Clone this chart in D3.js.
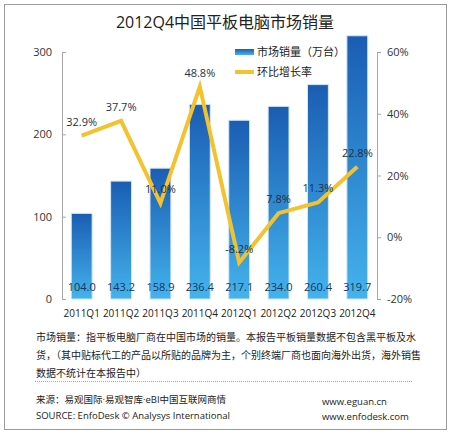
<!DOCTYPE html>
<html>
<head>
<meta charset="utf-8">
<script src="https://cdn.jsdelivr.net/npm/d3@7"></script>
<style>
  body { margin: 0; background: #fff; font-family: "Open Sans", "Noto Sans CJK SC", sans-serif; }
</style>
</head>
<body>
<div id="chart"></div>
<script>
// data
var quarters = ["2011Q1", "2011Q2", "2011Q3", "2011Q4", "2012Q1", "2012Q2", "2012Q3", "2012Q4"];
var sales = [104.0, 143.2, 158.9, 236.4, 217.1, 234.0, 260.4, 319.7];
var growth = [32.9, 37.7, 11.0, 48.8, -8.2, 7.8, 11.3, 22.8];
var leftTicks = [0, 100, 200, 300];
var rightTicks = [-20, 0, 20, 40, 60];

var W = 450, H = 435;
var margin = {top: 52, left: 62, right: 73, bottom: 136};
var width = W - margin.left - margin.right,
    height = H - margin.top - margin.bottom;
var latin = "'Open Sans', sans-serif",
    cjk = "'Open Sans', 'Noto Sans CJK SC', sans-serif";

var svg = d3.select("#chart").append("svg")
    .attr("width", W)
    .attr("height", H);

var defs = svg.append("defs");
var grad = defs.append("linearGradient")
    .attr("id", "barGrad")
    .attr("x1", 0).attr("y1", 0).attr("x2", 0).attr("y2", 1);
grad.append("stop").attr("offset", "0%").attr("stop-color", "#1a5db3");
grad.append("stop").attr("offset", "100%").attr("stop-color", "#44b3ec");

// outer frame
svg.append("rect")
    .attr("x", 4.5).attr("y", 4.5)
    .attr("width", 442).attr("height", 425)
    .attr("fill", "none")
    .attr("stroke", "#9a9a9a");

svg.append("text")
    .attr("x", 225).attr("y", 28)
    .attr("text-anchor", "middle")
    .style("font-size", "16px")
    .style("font-family", cjk)
    .attr("fill", "#222")
    .text("2012Q4中国平板电脑市场销量");

var g = svg.append("g")
    .attr("transform", "translate(" + margin.left + "," + margin.top + ")");

var x = d3.scaleBand()
    .domain(quarters)
    .range([0, width])
    .paddingInner(0.47)
    .paddingOuter(0.235);
var y = d3.scaleLinear().domain([0, 300]).range([height, 0]);
var y2 = d3.scaleLinear().domain([-20, 60]).range([height, 0]);

// bars
g.selectAll(".bar")
    .data(sales)
  .enter().append("rect")
    .attr("class", "bar")
    .attr("x", function(d, i) { return x(quarters[i]); })
    .attr("width", x.bandwidth())
    .attr("y", function(d) { return y(d); })
    .attr("height", function(d) { return height - y(d); })
    .attr("fill", "url(#barGrad)")
    .attr("stroke", "#d3e6f6")
    .attr("stroke-width", 1);

// bar values
g.selectAll(".val")
    .data(sales)
  .enter().append("text")
    .attr("x", function(d, i) { return x(quarters[i]) + x.bandwidth() / 2; })
    .attr("y", height - 8)
    .attr("text-anchor", "middle")
    .style("font-size", "11px")
    .style("font-family", latin)
    .attr("fill", "#17365d")
    .text(function(d) { return d.toFixed(1); });

// left axis
var axL = g.append("g")
    .call(d3.axisLeft(y).tickValues(leftTicks).tickSize(-4).tickPadding(10));
// right axis
var axR = g.append("g")
    .attr("transform", "translate(" + width + ",0)")
    .call(d3.axisRight(y2).tickValues(rightTicks).tickSize(4).tickPadding(6)
      .tickFormat(function(d) { return d + "%"; }));
[axL, axR].forEach(function(a) {
  a.select(".domain").attr("stroke", "#a6a6a6");
  a.selectAll(".tick line").attr("stroke", "#a6a6a6");
  a.selectAll("text").style("font-size", "11px").attr("fill", "#333")
    .style("font-family", latin);
});
axL.selectAll("text").attr("x", -10);

// x labels
g.selectAll(".xl")
    .data(quarters)
  .enter().append("text")
    .attr("x", function(d) { return x(d) + x.bandwidth() / 2; })
    .attr("y", height + 18)
    .attr("text-anchor", "middle")
    .style("font-size", "10px")
    .style("font-family", latin)
    .attr("fill", "#222")
    .text(function(d) { return d; });

// growth line
var line = d3.line()
    .x(function(d, i) { return x(quarters[i]) + x.bandwidth() / 2; })
    .y(function(d) { return y2(d); });
g.append("path")
    .datum(growth)
    .attr("d", line)
    .attr("fill", "none")
    .attr("stroke", "#f3c22c")
    .attr("stroke-width", 4)
    .attr("stroke-linejoin", "miter");

g.selectAll(".pct")
    .data(growth)
  .enter().append("text")
    .attr("x", function(d, i) { return x(quarters[i]) + x.bandwidth() / 2; })
    .attr("y", function(d) { return y2(d) - 10; })
    .attr("text-anchor", "middle")
    .style("font-size", "11px")
    .style("font-family", latin)
    .attr("fill", "#1f2f45")
    .text(function(d) { return d.toFixed(1) + "%"; });

// legend
var lg = svg.append("g").attr("transform", "translate(235,52)");
lg.append("rect").attr("x", 0).attr("y", -3).attr("width", 19).attr("height", 6).attr("fill", "url(#barGrad)");
lg.append("text").attr("x", 22).attr("y", 4).style("font-size", "11px").style("font-family", cjk)
    .attr("fill", "#222").text("市场销量（万台）");
lg.append("line").attr("x1", 0).attr("x2", 19).attr("y1", 20).attr("y2", 20)
    .attr("stroke", "#f3c22c").attr("stroke-width", 4);
lg.append("text").attr("x", 22).attr("y", 24).style("font-size", "11px").style("font-family", cjk)
    .attr("fill", "#222").text("环比增长率");

// notes
var notes = [
  "市场销量：指平板电脑厂商在中国市场的销量。本报告平板销量数据不包含黑平板及水",
  "货，（其中贴标代工的产品以所贴的品牌为主，个别终端厂商也面向海外出货，海外销售",
  "数据不统计在本报告中）"
];
svg.selectAll(".note")
    .data(notes)
  .enter().append("text")
    .attr("x", 36)
    .attr("y", function(d, i) { return 341 + i * 18; })
    .style("font-size", "10px")
    .style("font-family", cjk)
    .attr("fill", "#222")
    .text(function(d) { return d; });

svg.append("line")
    .attr("x1", 35).attr("x2", 412).attr("y1", 381.5).attr("y2", 381.5)
    .attr("stroke", "#aaa").attr("stroke-dasharray", "1,1");

var src = [
  {t: "来源：易观国际·易观智库·eBI中国互联网商情", x: 36, y: 403},
  {t: "SOURCE:  EnfoDesk © Analysys International", x: 36, y: 419},
  {t: "www.eguan.cn", x: 322, y: 405},
  {t: "www.enfodesk.com", x: 322, y: 420}
];
svg.selectAll(".src")
    .data(src)
  .enter().append("text")
    .attr("x", function(d) { return d.x; })
    .attr("y", function(d) { return d.y; })
    .style("font-size", "9.5px")
    .style("font-family", cjk)
    .attr("fill", "#222")
    .text(function(d) { return d.t; });
</script>
</body>
</html>
